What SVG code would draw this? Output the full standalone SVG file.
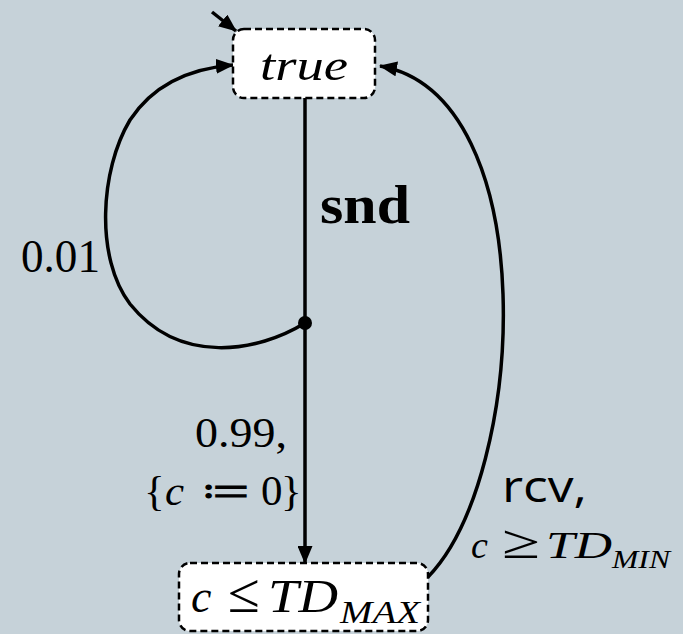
<svg xmlns="http://www.w3.org/2000/svg" width="683" height="634" viewBox="0 0 683 634">
<style>
.node{fill:#ffffff;stroke:#000;stroke-width:2.5;stroke-dasharray:7 4}
.edge{fill:none;stroke:#000;stroke-width:3.5}
.serif{font-family:"Liberation Serif","DejaVu Serif",serif;fill:#000}
.it{font-style:italic}
.sans{font-family:"Open Sans","Noto Sans","Liberation Sans",sans-serif;fill:#000}
</style>
<defs>
<marker id="arr" markerUnits="userSpaceOnUse" markerWidth="18" markerHeight="15" viewBox="0 0 18 15" refX="17" refY="7.5" orient="auto">
<path d="M0,0 L18,7.5 L0,15 z" fill="#000"/>
</marker>
</defs>
<rect width="683" height="634" fill="#c6d2d9"/>
<g id="connectors">
<path class="edge" d="M212,12 L236,31" marker-end="url(#arr)"/>
<path class="edge" d="M305,98 L305,563" marker-end="url(#arr)"/>
<path class="edge" d="M305,323 C258,352 180,366 130,304 C95,258 100,170 130,120 C155,82 195,68 233,65" marker-end="url(#arr)"/>
<path class="edge" d="M428,577 C527,475 545,95 380,66" marker-end="url(#arr)"/>
<circle cx="305" cy="323" r="7" fill="#000"/>
</g>
<g id="node-true">
<rect class="node" x="233" y="29" width="142" height="69" rx="11"/>
<text class="serif it" x="260" y="80" font-size="44" textLength="88" lengthAdjust="spacingAndGlyphs">true</text>
</g>
<g id="node-c-le-tdmax">
<rect class="node" x="179" y="563" width="249" height="68" rx="11"/>
<text class="serif" y="612" font-size="46"><tspan class="it" x="191">c</tspan><tspan x="228" font-size="56" textLength="32" lengthAdjust="spacingAndGlyphs">≤</tspan><tspan class="it" x="268" textLength="70" lengthAdjust="spacingAndGlyphs">TD</tspan><tspan class="it" x="340" y="623" font-size="31" textLength="80" lengthAdjust="spacingAndGlyphs">MAX</tspan></text>
</g>
<g id="labels">
<text class="serif" x="320" y="223" font-size="54" font-weight="bold" textLength="90" lengthAdjust="spacingAndGlyphs">snd</text>
<text class="serif" x="21" y="272" font-size="46" textLength="79" lengthAdjust="spacingAndGlyphs">0.01</text>
<text class="serif" x="195" y="447" font-size="43" textLength="92" lengthAdjust="spacingAndGlyphs">0.99,</text>
<text class="serif" y="505" font-size="43"><tspan x="144">{</tspan><tspan class="it" x="165">c</tspan><tspan x="200" font-family="DejaVu Serif,DejaVu Sans,serif" textLength="52" lengthAdjust="spacingAndGlyphs">≔</tspan><tspan x="261">0</tspan><tspan x="281">}</tspan></text>
<text class="sans" x="502" y="502" font-size="44" textLength="85" lengthAdjust="spacingAndGlyphs">rcv,</text>
<text class="serif" y="558" font-size="38"><tspan class="it" x="471">c</tspan><tspan x="502" font-size="48" textLength="38" lengthAdjust="spacingAndGlyphs">≥</tspan><tspan class="it" x="546" textLength="66" lengthAdjust="spacingAndGlyphs">TD</tspan><tspan class="it" x="612" y="568" font-size="26" textLength="58" lengthAdjust="spacingAndGlyphs">MIN</tspan></text>
</g>
</svg>
